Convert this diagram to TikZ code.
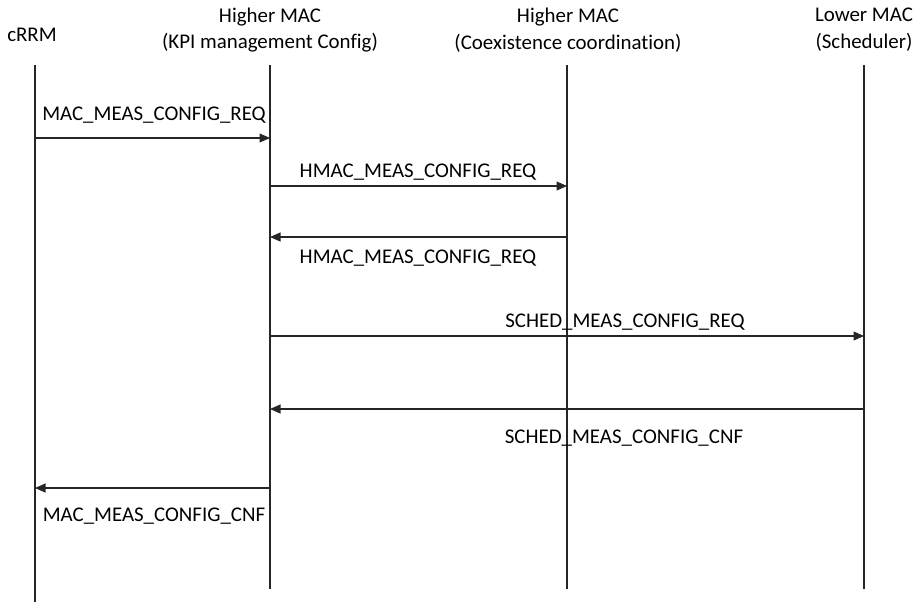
\documentclass[tikz,border=0pt]{standalone}
\usepackage{fontspec}
\setmainfont{Carlito}[Ligatures=NoCommon]
\usetikzlibrary{positioning,calc,arrows.meta}

\begin{document}
\begin{tikzpicture}[
    x=0.2mm,
    y=-0.2mm,
    font=\fontsize{11.9}{15.3}\selectfont,
    >={Triangle[length=2.1mm,width=1.8mm]},
    head/.style={
        align=center,
        inner sep=0pt
    },
    life/.style={
        line width=0.6pt,
        draw=black!85
    },
    msg/.style={
        ->,
        line width=0.6pt,
        draw=black!85
    },
    lbl/.style={
        anchor=base,
        inner sep=0pt
    }
]
\useasboundingbox (0,0) rectangle (916,602);

% =========================
% Heads and lifelines
% =========================
\node[head] (crrmhd)  at (32,35)  {cRRM};
\node[head] (kpihd)   at (270,30) {Higher MAC\\(KPI management Config)};
\node[head] (coexhd)  at (568,30) {Higher MAC\\(Coexistence coordination)};
\node[head] (lowerhd) at (864,30) {Lower MAC\\(Scheduler)};

\coordinate (crrm)  at (35,65);
\coordinate (kpi)   at (270,65);
\coordinate (coex)  at (567,65);
\coordinate (lower) at (864,65);

\draw[life] (crrm)  -- ++(0,537);
\draw[life] (kpi)   -- ++(0,524);
\draw[life] (coex)  -- ++(0,524);
\draw[life] (lower) -- ++(0,524);

% =========================
% Message rows
% =========================
\coordinate (r1) at (0,138);
\coordinate (r2) at (0,186);
\coordinate (r3) at (0,237);
\coordinate (r4) at (0,336);
\coordinate (r5) at (0,409);
\coordinate (r6) at (0,488);

\draw[msg] (crrm |- r1) -- (kpi |- r1);
\draw[msg] (kpi |- r2) -- (coex |- r2);
\draw[msg] (coex |- r3) -- (kpi |- r3);
\draw[msg] (kpi |- r4) -- (lower |- r4);
\draw[msg] (lower |- r5) -- (kpi |- r5);
\draw[msg] (kpi |- r6) -- (crrm |- r6);

\node[lbl] (l1) at (154,120) {MAC\_MEAS\_CONFIG\_REQ};
\node[lbl] (l2) at (418,177) {HMAC\_MEAS\_CONFIG\_REQ};
\node[lbl] (l3) at (418,263) {HMAC\_MEAS\_CONFIG\_REQ};
\node[lbl] (l4) at (625,327) {SCHED\_MEAS\_CONFIG\_REQ};
\node[lbl] (l5) at (624,443) {SCHED\_MEAS\_CONFIG\_CNF};
\node[lbl] (l6) at (154,521) {MAC\_MEAS\_CONFIG\_CNF};

\end{tikzpicture}
\end{document}
